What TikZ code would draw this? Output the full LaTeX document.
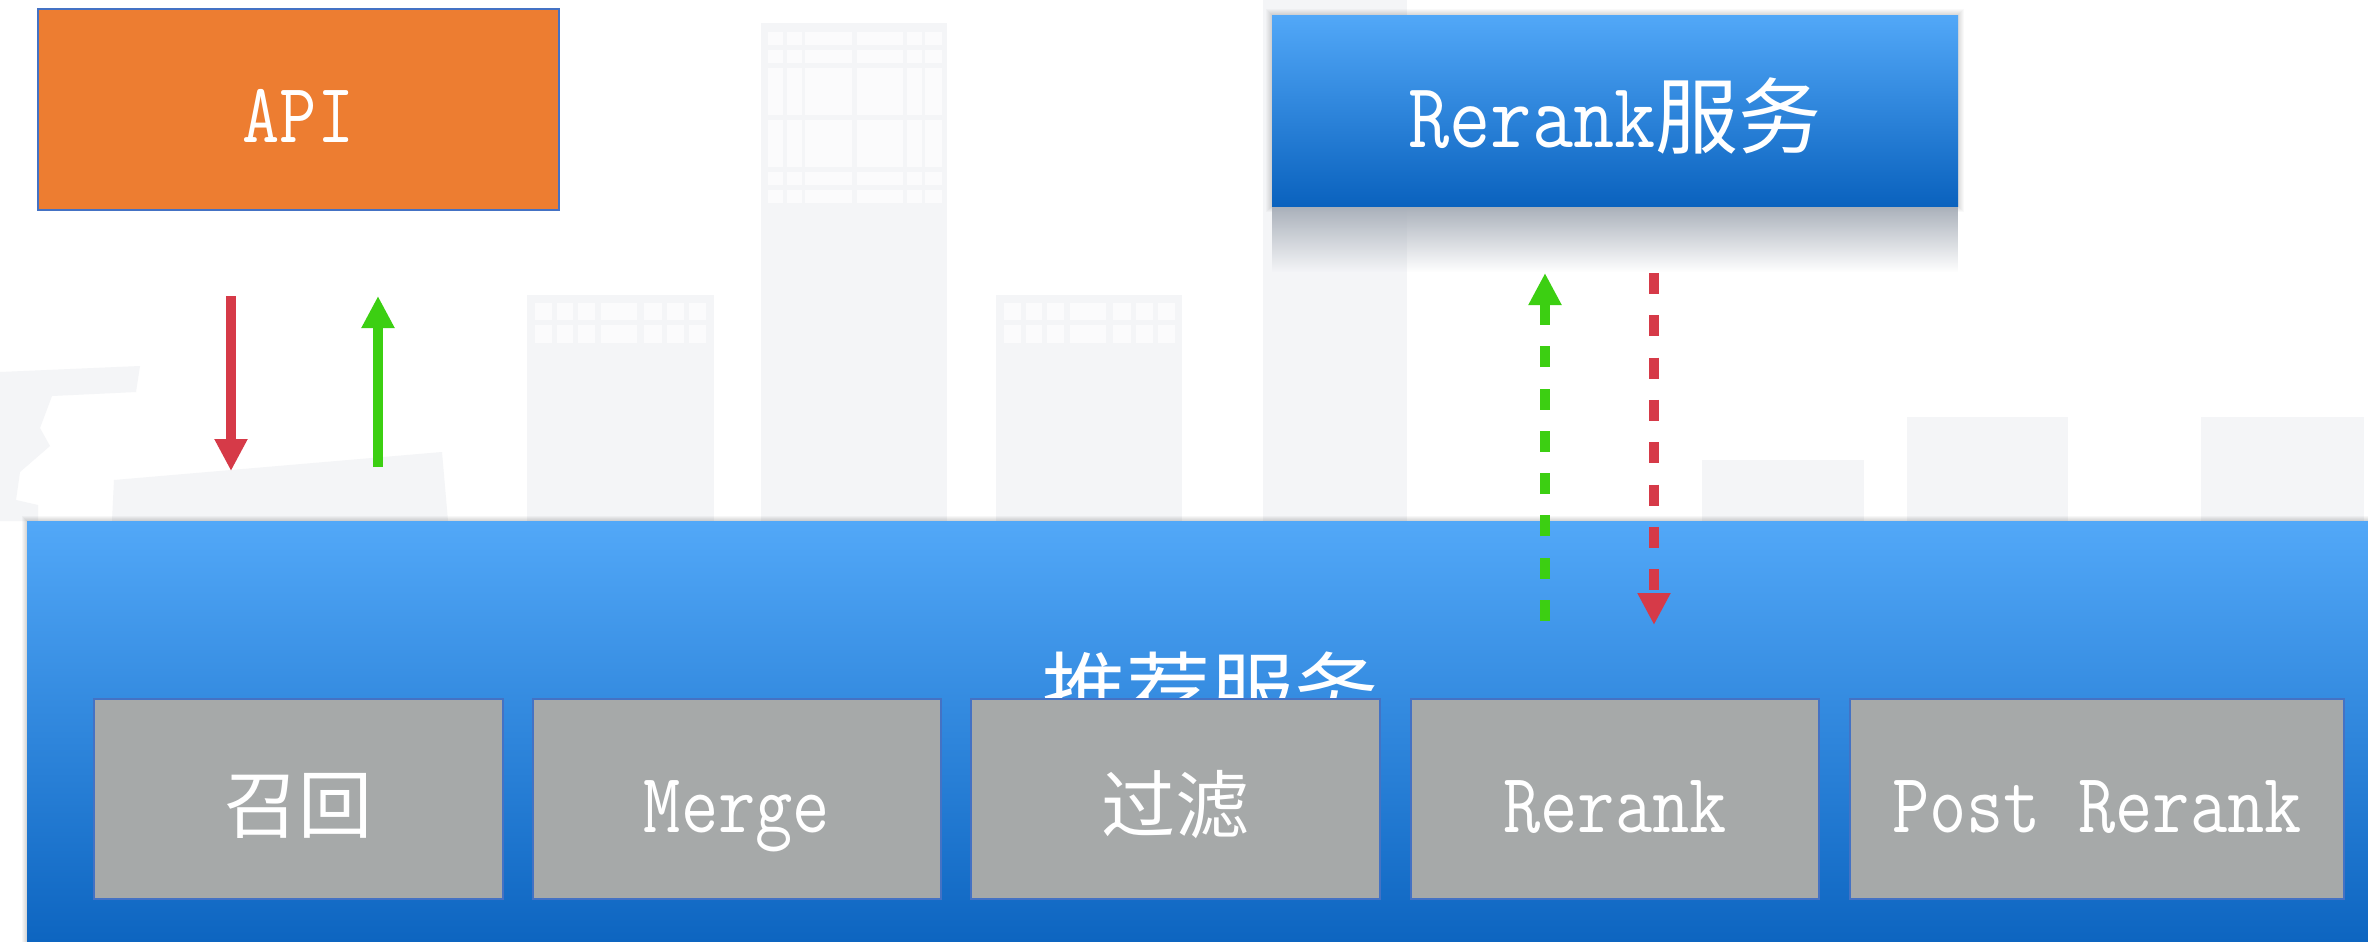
\documentclass[tikz,border=0pt]{standalone}
\usepackage{fontspec}
\newfontfamily\cjk{Noto Sans CJK SC}
\usetikzlibrary{arrows.meta,fadings}

\definecolor{apiorange}{HTML}{ED7D31}
\definecolor{edgeblue}{HTML}{4472C4}
\definecolor{blueTop}{HTML}{52A8F8}
\definecolor{blueBot}{HTML}{0A62BE}
\definecolor{stagegray}{HTML}{A6A9A9}
\definecolor{arrowred}{HTML}{D63A48}
\definecolor{arrowgreen}{HTML}{3CCF12}
\definecolor{bldg}{HTML}{F4F5F7}
\definecolor{bldgwin}{HTML}{FBFBFC}
\definecolor{reflect}{HTML}{A9B0BA}

% narrow monospaced latin text
\newcommand\lat[2][0.85]{\scalebox{#1}[1]{\ttfamily #2}}

\tikzfading[name=fadedown, top color=transparent!0, bottom color=transparent!100]

\tikzset{
  boxtext/.style={font=\fontsize{42.5pt}{50pt}\selectfont, text=white},
  apibox/.style={boxtext, draw=edgeblue, line width=0.8pt, fill=apiorange,
    minimum width=260.5pt, minimum height=100.5pt, inner sep=0pt,
    text height=32.5pt, text depth=0pt},
  servicebox/.style={top color=blueTop, bottom color=blueBot, inner sep=0pt},
  stagebox/.style={boxtext, draw=edgeblue, line width=0.7pt, fill=stagegray,
    minimum height=100pt, inner sep=0pt, text height=33pt, text depth=0pt},
  flow/.style={line width=5pt, -{Triangle[length=16pt,width=15.5pt]}},
  dashflow/.style={flow, line width=5.3pt, dash pattern=on 10.5pt off 10.65pt},
}

\begin{document}
\begin{tikzpicture}[x=0.5pt,y=-0.5pt]
\useasboundingbox (0,0) rectangle (2368,942);
\fill[white] (0,0) rectangle (2368,942);

% ---- faint skyline in the background ----
\begin{scope}[bldg]
  \fill (0,372) -- (140,366) -- (136,392) -- (52,396) -- (40,428) -- (50,446)
        -- (20,472) -- (16,500) -- (38,505) -- (38,521) -- (0,521) -- cycle;
  \fill (114,480) -- (442,452) -- (448,521) -- (112,521) -- cycle;
  \fill (527,295) rectangle (714,521);
  \fill (761,23) rectangle (947,521);
  \fill (996,295) rectangle (1182,521);
  \fill (1263,-5) rectangle (1407,521);
  \fill (1702,460) rectangle (1864,521);
  \fill (1907,417) rectangle (2068,521);
  \fill (2201,417) rectangle (2364,521);
\end{scope}
% window grid of the tall tower
\foreach \ya/\yb in {32/45,50/63,68/115,120/167,172/185,190/203}
  \foreach \xa/\xb in {768/783,787/802,805/852,857/903,907/922,925/942}
    \fill[bldgwin] (\xa,\ya) rectangle (\xb,\yb);
% windows of the two lower blocks
\foreach \bx in {527,996}
  \foreach \ya/\yb in {303/320,325/343}
    \foreach \xa/\xb in {8/25,30/46,51/68,74/110,117/135,140/157,162/179}
      \fill[bldgwin] (\bx+\xa,\ya) rectangle (\bx+\xb,\yb);

% ---- API ----
\node[apibox] (api) at (298.5,109.5) {\lat{API}};

% ---- Rerank service ----
\foreach \k in {1,...,6}
  \fill[black,opacity=0.025] (1272-\k,15-\k) rectangle (1958+\k,206+\k);
\fill[reflect, path fading=fadedown] (1272,206) rectangle (1958,272);
\node[servicebox, minimum width=343pt, minimum height=95.5pt,
      font=\fontsize{46.5pt}{54pt}\selectfont, text=white,
      text height=36.5pt, text depth=0pt] (rrsvc) at (1615,110.5)
  {\lat[0.86]{Rerank}{\cjk\fontsize{41.5pt}{48pt}\selectfont 服务}};

% ---- request / response between API and recommendation service ----
\coordinate (apiReqFrom) at (231,296);
\coordinate (apiReqTo)   at (231,471);
\coordinate (apiRespFrom) at (378,467);
\coordinate (apiRespTo)   at (378,296);
\draw[flow, arrowred]   (apiReqFrom) -- (apiReqTo);
\draw[flow, arrowgreen] (apiRespFrom) -- (apiRespTo);

% ---- recommendation service ----
\foreach \k in {1,...,5}
  \fill[black,opacity=0.03] (27-\k,521-\k) rectangle (2400,960);
\node[servicebox, minimum width=1186.5pt, minimum height=219.5pt] (recsvc)
  at (1213.5,740.5) {};
\node[anchor=base, text=white, font=\cjk\fontsize{42pt}{50pt}\selectfont]
  (rectitle) at (1210,722) {推荐服务};

% ---- pipeline stages ----
\node[stagebox, minimum width=204.5pt] (recall) at (298.5,799)
  {{\cjk\fontsize{37pt}{44pt}\selectfont 召回}};
\node[stagebox, minimum width=204pt] (merge) at (737,799) {\lat{Merge}};
\node[stagebox, minimum width=204.5pt] (filter) at (1175.5,799)
  {{\cjk\fontsize{37pt}{44pt}\selectfont 过滤}};
\node[stagebox, minimum width=204pt] (rerank) at (1615,799) {\lat{Rerank}};
\node[stagebox, minimum width=247pt] (postrr) at (2097,799) {\lat{Post Rerank}};

% ---- calls between recommendation service and Rerank service ----
\coordinate (rrRespFrom) at (1545,621);
\coordinate (rrRespTo)   at (1545,273);
\coordinate (rrReqFrom)  at (1654,273);
\coordinate (rrReqTo)    at (1654,625);
\draw[dashflow, arrowgreen] (rrRespFrom) -- (rrRespTo);
\draw[dashflow, arrowred]   (rrReqFrom) -- (rrReqTo);
\end{tikzpicture}
\end{document}
